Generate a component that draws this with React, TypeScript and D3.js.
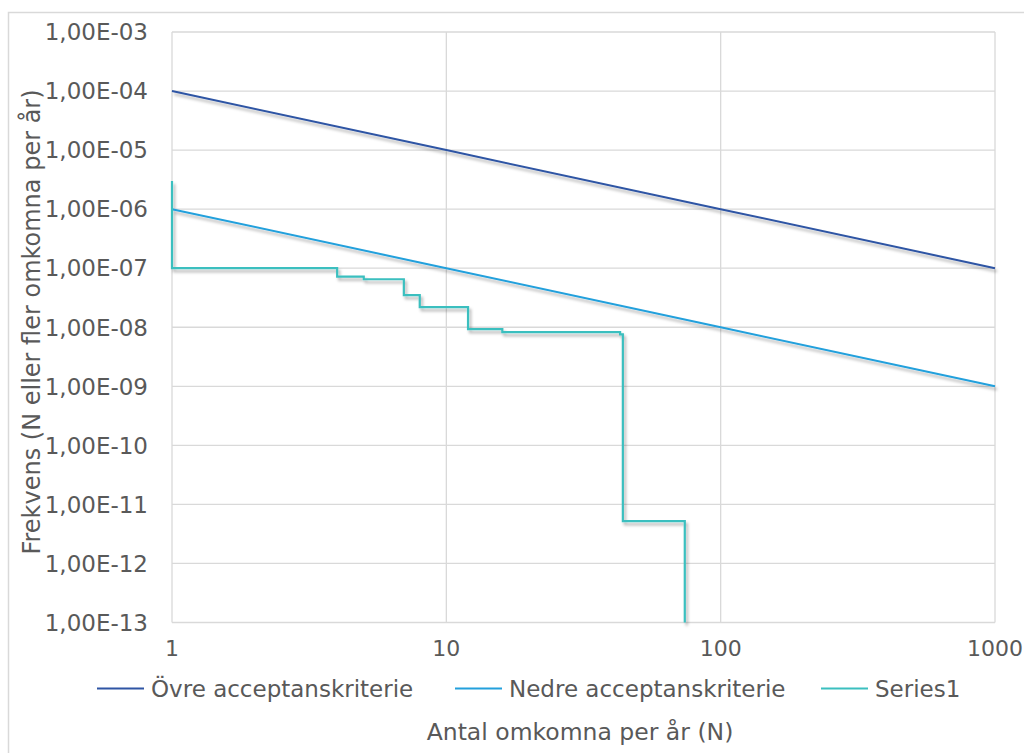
import { useEffect, useRef } from "react";
import * as d3 from "d3";

// FN-kurva: acceptanskriterier och beräknad risk
const nValues = [1, 10, 100, 1000];
const ovreValues = [1e-4, 1e-5, 1e-6, 1e-7];
const nedreValues = [1e-6, 1e-7, 1e-8, 1e-9];

// Series1 (stegkurva)
const seriesN = [1, 1, 4, 5, 7, 8, 12, 16, 43, 44, 74, 74];
const seriesF = [3e-6, 1e-7, 7.2e-8, 6.5e-8, 3.5e-8, 2.2e-8, 9.3e-9, 8.3e-9, 7.6e-9, 5.2e-12, 5.2e-12, 1e-13];

const yTicks = d3.range(-3, -14, -1).map(e => Math.pow(10, e));
const xTicks = [1, 10, 100, 1000];

const legendItems = [
  { label: "Övre acceptanskriterie", color: "#2f55a4", x: 97 },
  { label: "Nedre acceptanskriterie", color: "#23a0dc", x: 455 },
  { label: "Series1", color: "#3bbfbf", x: 821 },
];

const fmtY = (v: number) => {
  const e = Math.round(Math.log10(v));
  const s = e < 0 ? "-" : "+";
  return `1,00E${s}${String(Math.abs(e)).padStart(2, "0")}`;
};

export default function App() {
  const ref = useRef<SVGGElement>(null);

  const width = 1024;
  const height = 753;
  const margin = { top: 32, left: 172, right: 29, bottom: 130 };
  const innerW = width - margin.left - margin.right;
  const innerH = height - margin.top - margin.bottom - 0.5;

  useEffect(() => {
    const g = d3.select(ref.current);
    g.selectAll("*").remove();

    const x = d3.scaleLog().domain([1, 1000]).range([0, innerW]);
    const y = d3.scaleLog().domain([1e-13, 1e-3]).range([innerH, 0]);

    const font = "'DejaVu Sans', Verdana, sans-serif";
    const textColor = "#595959";

    // grid
    g.append("g")
      .selectAll("line")
      .data(yTicks)
      .join("line")
      .attr("x1", 0)
      .attr("x2", innerW)
      .attr("y1", d => y(d))
      .attr("y2", d => y(d))
      .attr("stroke", "#d9d9d9")
      .attr("stroke-width", 1.3);
    g.append("g")
      .selectAll("line")
      .data(xTicks)
      .join("line")
      .attr("x1", d => x(d))
      .attr("x2", d => x(d))
      .attr("y1", 0)
      .attr("y2", innerH)
      .attr("stroke", "#d9d9d9")
      .attr("stroke-width", 1.3);

    // y tick labels
    g.append("g")
      .selectAll("text")
      .data(yTicks)
      .join("text")
      .attr("x", -24)
      .attr("y", d => y(d))
      .attr("dy", "0.36em")
      .attr("text-anchor", "end")
      .attr("font-family", font)
      .attr("font-size", 23)
      .attr("fill", textColor)
      .text(d => fmtY(d));

    // x tick labels
    g.append("g")
      .selectAll("text")
      .data(xTicks)
      .join("text")
      .attr("x", d => x(d))
      .attr("y", innerH + 33)
      .attr("text-anchor", "middle")
      .attr("font-family", font)
      .attr("font-size", 22)
      .attr("fill", textColor)
      .text(d => String(d));

    const line = d3.line<[number, number]>()
      .x(d => x(d[0]))
      .y(d => y(d[1]));

    const lines = g.append("g").attr("filter", "url(#shadow)");

    lines.append("path")
      .datum(nValues.map((n, i) => [n, ovreValues[i]] as [number, number]))
      .attr("fill", "none")
      .attr("stroke", legendItems[0].color)
      .attr("stroke-width", 2)
      .attr("d", line);

    lines.append("path")
      .datum(nValues.map((n, i) => [n, nedreValues[i]] as [number, number]))
      .attr("fill", "none")
      .attr("stroke", legendItems[1].color)
      .attr("stroke-width", 2)
      .attr("d", line);

    lines.append("path")
      .datum(seriesN.map((n, i) => [n, seriesF[i]] as [number, number]))
      .attr("fill", "none")
      .attr("stroke", legendItems[2].color)
      .attr("stroke-width", 2.2)
      .attr("d", line.curve(d3.curveStepAfter));

    // legend
    const leg = g.append("g").attr("transform", `translate(${-margin.left}, ${innerH + 66})`);
    legendItems.forEach(item => {
      leg.append("line")
        .attr("x1", item.x)
        .attr("x2", item.x + 47)
        .attr("y1", 0)
        .attr("y2", 0)
        .attr("stroke", item.color)
        .attr("stroke-width", 2);
      leg.append("text")
        .attr("x", item.x + 54)
        .attr("y", 0)
        .attr("dy", "0.36em")
        .attr("font-family", font)
        .attr("font-size", 23)
        .attr("fill", textColor)
        .text(item.label);
    });

    // axis titles
    g.append("text")
      .attr("x", 580 - margin.left)
      .attr("y", innerH + 117)
      .attr("text-anchor", "middle")
      .attr("font-family", font)
      .attr("font-size", 23.5)
      .attr("fill", textColor)
      .text("Antal omkomna per år (N)");

    g.append("text")
      .attr("transform", `translate(${31 - margin.left}, ${322 - margin.top}) rotate(-90)`)
      .attr("dy", "0.36em")
      .attr("text-anchor", "middle")
      .attr("font-family", font)
      .attr("font-size", 24)
      .attr("fill", textColor)
      .text("Frekvens (N eller fler omkomna per år)");
  }, []);

  return (
    <svg
      width={width}
      height={height}
      style={{ position: "absolute", left: 0, top: 0, background: "#fff" }}
    >
      <defs>
        <filter id="shadow" x="-10%" y="-10%" width="120%" height="120%">
          <feDropShadow dx="2" dy="3" stdDeviation="1.5" floodColor="#000" floodOpacity="0.3" />
        </filter>
      </defs>
      <rect x={8.5} y={12.5} width={width + 20} height={height + 20} fill="none" stroke="#d9d9d9" strokeWidth={1.5} />
      <g ref={ref} transform={`translate(${margin.left}, ${margin.top})`}></g>
    </svg>
  );
}
